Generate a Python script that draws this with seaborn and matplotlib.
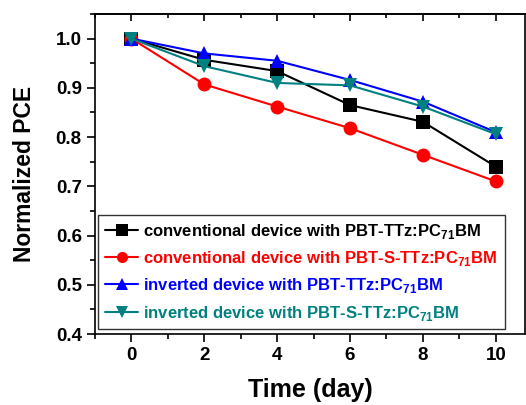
import matplotlib
matplotlib.use("Agg")
import matplotlib.pyplot as plt
import seaborn as sns
import pandas as pd
from matplotlib.ticker import MultipleLocator, FormatStrFormatter
from matplotlib.lines import Line2D

days = [0, 2, 4, 6, 8, 10]
conv_ttz = [1.0, 0.957, 0.934, 0.865, 0.831, 0.740]
conv_sttz = [1.0, 0.907, 0.862, 0.818, 0.764, 0.710]
inv_ttz = [1.0, 0.970, 0.955, 0.916, 0.872, 0.810]
inv_sttz = [1.0, 0.944, 0.910, 0.905, 0.862, 0.806]

labels = [
    r"conventional device with PBT-TTz:PC$_{\mathbf{71}}$BM",
    r"conventional device with PBT-S-TTz:PC$_{\mathbf{71}}$BM",
    r"inverted device with PBT-TTz:PC$_{\mathbf{71}}$BM",
    r"inverted device with PBT-S-TTz:PC$_{\mathbf{71}}$BM",
]
colors = ["#000000", "#ff0000", "#0000ff", "#008080"]
markers = ["s", "o", "^", "v"]

sns.set_style("ticks")
plt.rcParams["font.family"] = ["Liberation Sans", "DejaVu Sans"]
plt.rcParams["font.weight"] = "bold"
plt.rcParams["mathtext.fontset"] = "custom"
plt.rcParams["mathtext.bf"] = "Liberation Sans:bold"
plt.rcParams["mathtext.rm"] = "Liberation Sans:bold"
for k in ["text.color", "axes.labelcolor", "xtick.color", "ytick.color", "axes.edgecolor"]:
    plt.rcParams[k] = "black"

rows = []
for lab, vals in zip(labels, [conv_ttz, conv_sttz, inv_ttz, inv_sttz]):
    for d, v in zip(days, vals):
        rows.append({"day": d, "pce": v, "series": lab})
df = pd.DataFrame(rows)

fig = plt.figure(figsize=(5.26, 4.05), dpi=100)
ax = fig.add_axes([0.1806, 0.1753, 0.8174, 0.7901])

for lab, c, m in zip(labels, colors, markers):
    sub = df[df["series"] == lab]
    sns.lineplot(data=sub, x="day", y="pce", ax=ax, color=c, marker=m,
                 markersize=10, markeredgewidth=0, linewidth=1.5, legend=False)

ax.set_xlim(-1, 10.8)
ax.set_ylim(0.4, 1.05)
ax.xaxis.set_major_locator(MultipleLocator(2))
ax.xaxis.set_minor_locator(MultipleLocator(1))
ax.yaxis.set_major_locator(MultipleLocator(0.1))
ax.yaxis.set_minor_locator(MultipleLocator(0.05))
ax.yaxis.set_major_formatter(FormatStrFormatter("%.1f"))
ax.tick_params(axis="both", which="major", direction="out", length=6, width=1.2,
               labelsize=13.5, top=False, right=False, colors="black")
ax.tick_params(axis="both", which="minor", direction="out", length=3.5, width=1.2,
               top=False, right=False)
for lbl in ax.get_xticklabels() + ax.get_yticklabels():
    lbl.set_fontweight("bold")
for s in ax.spines.values():
    s.set_linewidth(1.2)
    s.set_visible(True)

top = ax.secondary_xaxis("top")
top.xaxis.set_major_locator(MultipleLocator(2))
top.xaxis.set_minor_locator(MultipleLocator(1))
top.tick_params(axis="x", which="major", direction="in", length=5, width=1.2, labeltop=False)
top.tick_params(axis="x", which="minor", direction="in", length=3, width=1.2)
top.spines["top"].set_linewidth(1.2)

ax.set_xlabel("Time (day)", fontsize=18, fontweight="bold", labelpad=10)
ax.set_ylabel("Normalized PCE", fontsize=16.5, fontweight="bold", labelpad=14)

handles = [Line2D([], [], color=c, marker=m, markersize=8, markeredgewidth=0, linewidth=1.5)
           for c, m in zip(colors, markers)]
leg = ax.legend(handles, labels, loc="lower left", bbox_to_anchor=(0.008, 0.015),
                fontsize=12, frameon=True, fancybox=False, edgecolor="black",
                handlelength=2.0, handletextpad=0.3, borderpad=0.4, labelspacing=0.5,
                borderaxespad=0)
leg.get_frame().set_linewidth(1.0)
for t, c in zip(leg.get_texts(), colors):
    t.set_color(c)
    t.set_fontweight("bold")

fig.savefig("out.png", dpi=100)
